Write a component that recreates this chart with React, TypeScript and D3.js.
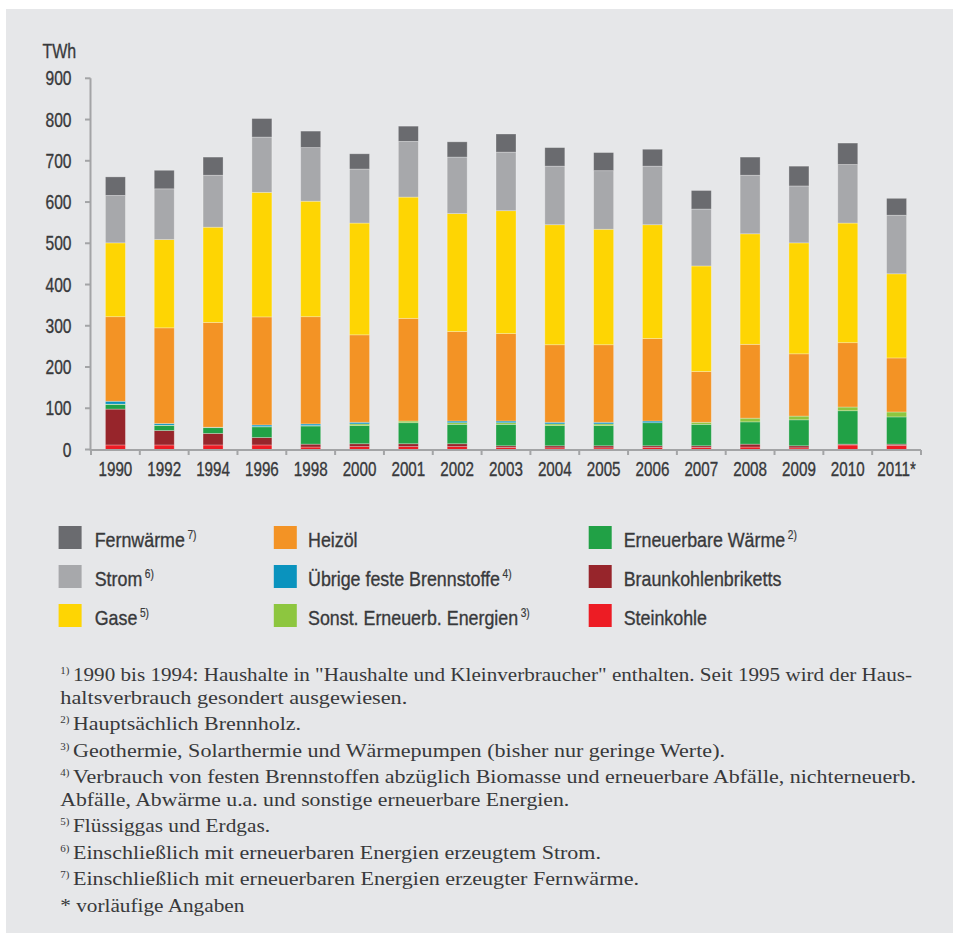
import React from "react";
import * as d3 from "d3";

const years = ["1990","1992","1994","1996","1998","2000","2001","2002","2003","2004","2005","2006","2007","2008","2009","2010","2011*"];

const steinkohle = [11,11,11,11,6,7,7,7,5,4,4,5,5,6,4,11,10];
const braunkohle = [87,35,28,18,7,7,7,7,4,5,5,4,4,7,5,2,3];
const erneuerbareWaerme = [11,12,14,26,44,44,51,47,52,49,49,56,52,54,63,81,66];
const sonstErneuerbar = [1,1,0.5,0.5,1,4,4,4,4,4,4,0,5,9,9,9,12];
const uebrigeFeste = [7,4,0.5,4,4,4,0,4,4,4,4,4,0,0,0,0,0];
const heizoel = [205,232,254,262,260,212,249,217,212,188,188,200,123,179,151,156,131];
const gase = [179,214,231,302,280,271,294,286,298,291,280,276,256,268,269,290,204];
const strom = [115,123,126,134,130,131,135,137,142,142,142,142,138,142,138,142,142];
const fernwaerme = [45,45,44,45,40,37,37,37,44,45,44,41,45,44,48,52,41];

const yTicks = [0,100,200,300,400,500,600,700,800,900];

const seriesDefs = [
  { key: "steinkohle", label: "Steinkohle", sup: "", color: "#ed1c24", values: steinkohle },
  { key: "braunkohle", label: "Braunkohlenbriketts", sup: "", color: "#97252b", values: braunkohle },
  { key: "ew", label: "Erneuerbare Wärme", sup: "2)", color: "#21a146", values: erneuerbareWaerme },
  { key: "sonst", label: "Sonst. Erneuerb. Energien", sup: "3)", color: "#8dc63f", values: sonstErneuerbar },
  { key: "uebrige", label: "Übrige feste Brennstoffe", sup: "4)", color: "#0a93be", values: uebrigeFeste },
  { key: "heizoel", label: "Heizöl", sup: "", color: "#f39325", values: heizoel },
  { key: "gase", label: "Gase", sup: "5)", color: "#fed503", values: gase },
  { key: "strom", label: "Strom", sup: "6)", color: "#a7a8ab", values: strom },
  { key: "fern", label: "Fernwärme", sup: "7)", color: "#6a6b6f", values: fernwaerme },
];

// legend grid order (rows x cols)
const legendGrid = [
  ["fern", "heizoel", "ew"],
  ["strom", "uebrige", "braunkohle"],
  ["gase", "sonst", "steinkohle"],
];

const footnotes = [
  { sup: "1)", lines: ["1990 bis 1994: Haushalte in \"Haushalte und Kleinverbraucher\" enthalten. Seit 1995 wird der Haus-", "haltsverbrauch gesondert ausgewiesen."] },
  { sup: "2)", lines: ["Hauptsächlich Brennholz."] },
  { sup: "3)", lines: ["Geothermie, Solarthermie und Wärmepumpen (bisher nur geringe Werte)."] },
  { sup: "4)", lines: ["Verbrauch von festen Brennstoffen abzüglich Biomasse und erneuerbare Abfälle, nichterneuerb.", "Abfälle, Abwärme u.a. und sonstige erneuerbare Energien."] },
  { sup: "5)", lines: ["Flüssiggas und Erdgas."] },
  { sup: "6)", lines: ["Einschließlich mit erneuerbaren Energien erzeugtem Strom."] },
  { sup: "7)", lines: ["Einschließlich mit erneuerbaren Energien erzeugter Fernwärme."] },
  { sup: "", lines: ["* vorläufige Angaben"] },
];
// layout widths of footnote lines (px)
const footnoteWidths = [[839, 347], [228], [652], [843, 509], [197], [528], [566], [184]];

const W = 953, H = 933;
const SANS = "'Liberation Sans', Arial, sans-serif";
const SERIF = "'Liberation Serif', 'DejaVu Serif', serif";
const TEXT = "#38393b";
const AXIS = "#a3a4a6";

function NText(props: { x: number; y: number; sx?: number; size: number; anchor?: string; children: any }) {
  const { x, y, sx = 0.8, size, anchor = "start", children } = props;
  return (
    <text
      transform={`translate(${x},${y}) scale(${sx},1)`}
      textAnchor={anchor}
      fontFamily={SANS}
      fontSize={size}
      fill={TEXT}
      stroke={TEXT}
      strokeWidth={0.35}
    >
      {children}
    </text>
  );
}

export default function App() {
  const x = d3.scaleBand<string>().domain(years).range([91, 921]).paddingInner(0.59).paddingOuter(0.295);
  const y = d3.scaleLinear().domain([0, 900]).range([449.5, 78.3]);

  const table = years.map((yr, i) => {
    const row: any = { year: yr };
    seriesDefs.forEach((s) => (row[s.key] = s.values[i]));
    return row;
  });
  const stack = d3.stack<any>().keys(seriesDefs.map((s) => s.key));
  const stacked = stack(table);

  const step = x.step();
  const boundaries = years.map((_, i) => 91 + i * step).concat([921]);

  const byKey: Record<string, any> = {};
  seriesDefs.forEach((s) => (byKey[s.key] = s));
  const colX = [[58.6, 94.7], [273.8, 308], [588.7, 623.7]];
  const rowY = [526, 565, 604];

  // footnote layout
  const fnLines: any[] = [];
  let yy = 681;
  footnotes.forEach((f, fi) => {
    f.lines.forEach((ln, li) => {
      const first = li === 0;
      fnLines.push({
        sup: first ? f.sup : "",
        text: ln,
        x: first && f.sup ? 73 : 60.3,
        y: yy,
        w: footnoteWidths[fi][li],
      });
      yy += li < f.lines.length - 1 ? 22.5 : 26.5;
    });
  });

  return (
    <svg width={W} height={H} style={{ position: "absolute", left: 0, top: 0 }}>
      <rect x={6} y={9} width={W - 6} height={H - 9} fill="#e6e7e9" />

      {/* y axis */}
      <line x1={90.5} x2={90.5} y1={y(900)} y2={y(0) + 1} stroke={AXIS} strokeWidth={2} />
      {yTicks.map((t) => (
        <g key={t}>
          <line x1={85} x2={90.5} y1={y(t)} y2={y(t)} stroke={AXIS} strokeWidth={2} />
          <NText x={71.5} y={y(t) + 7} size={20} sx={0.78} anchor="end">{t}</NText>
        </g>
      ))}
      <NText x={42.5} y={58} size={20.5} sx={0.78}>TWh</NText>

      {/* bars */}
      {stacked.map((layer, li) => (
        <g key={layer.key} fill={seriesDefs[li].color}>
          {layer.map((d, i) => {
            const h = y(d[0]) - y(d[1]);
            if (h <= 0) return null;
            return (
              <rect key={i} x={x(years[i])} y={y(d[1])} width={x.bandwidth()} height={h}
                stroke="#ffffff" strokeOpacity={0.35} strokeWidth={0.8} />
            );
          })}
        </g>
      ))}

      {/* x axis */}
      <line x1={90} x2={921} y1={450} y2={450} stroke={AXIS} strokeWidth={2} />
      {boundaries.map((bx, i) => (
        <line key={i} x1={bx} x2={bx} y1={450} y2={455} stroke={AXIS} strokeWidth={2} />
      ))}
      {years.map((yr) => (
        <NText key={yr} x={(x(yr) as number) + x.bandwidth() / 2} y={476} size={20} sx={0.76} anchor="middle">{yr}</NText>
      ))}

      {/* legend */}
      {legendGrid.map((row, ri) =>
        row.map((k, ci) => {
          const s = byKey[k];
          return (
            <g key={k}>
              <rect x={colX[ci][0]} y={rowY[ri]} width={23} height={23} fill={s.color} />
              <NText x={colX[ci][1]} y={rowY[ri] + 20.7} size={21} sx={0.85}>
                {s.label}
                {s.sup ? <tspan dx={3} dy={-8} fontSize={12} strokeWidth={0.2}>{s.sup}</tspan> : null}
              </NText>
            </g>
          );
        })
      )}

      {/* footnotes */}
      {fnLines.map((l, i) => (
        <g key={i}>
          {l.sup ? (
            <text x={60.3} y={l.y - 7} fontFamily={SERIF} fontSize={11} fill={TEXT}>{l.sup}</text>
          ) : null}
          <text x={l.x} y={l.y} fontFamily={SERIF} fontSize={19} fill={TEXT} textLength={l.w} lengthAdjust="spacingAndGlyphs">{l.text}</text>
        </g>
      ))}
    </svg>
  );
}
